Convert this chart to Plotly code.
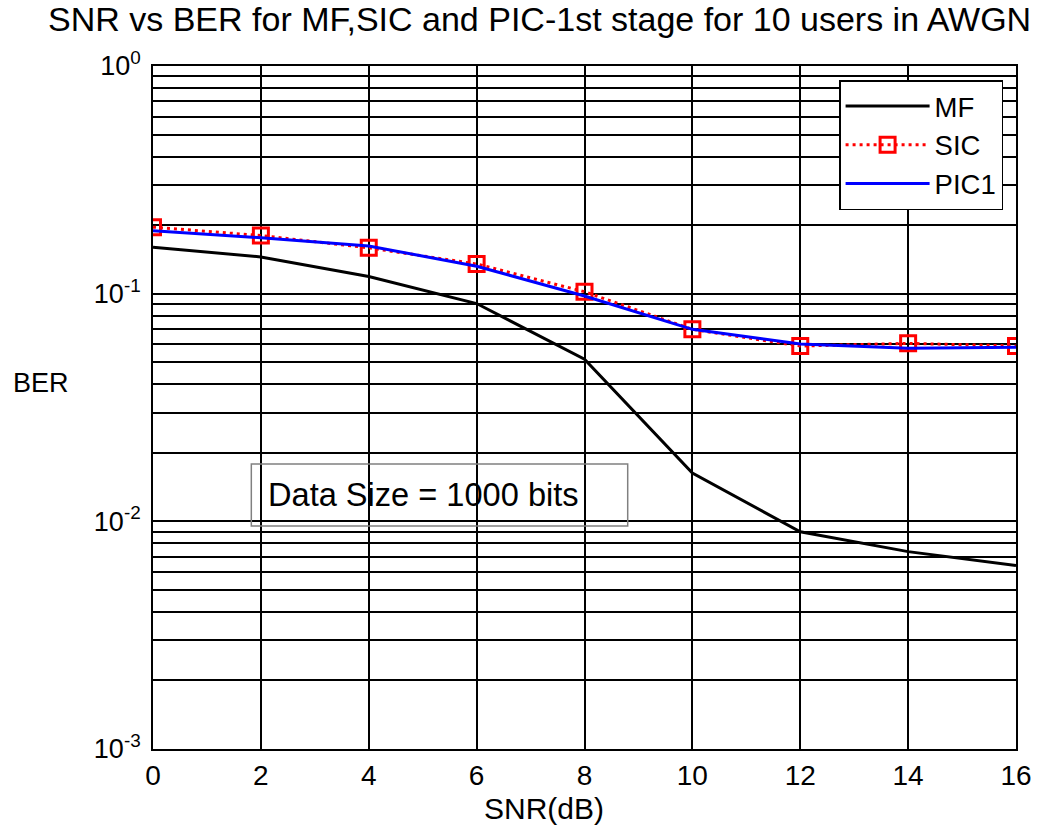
import plotly.graph_objects as go

# ---- data ----
snr_db = [0, 2, 4, 6, 8, 10, 12, 14, 16]
ber_mf = [0.160, 0.145, 0.119, 0.0905, 0.0515, 0.0163, 0.0090, 0.00736, 0.00640]
ber_sic = [0.196, 0.180, 0.159, 0.135, 0.102, 0.0697, 0.0589, 0.0605, 0.0589]
ber_pic1 = [0.189, 0.176, 0.162, 0.132, 0.0977, 0.0697, 0.0601, 0.0576, 0.0582]

x_ticks = [0, 2, 4, 6, 8, 10, 12, 14, 16]
y_major = [1e-3, 1e-2, 1e-1, 1e0]
y_major_labels = ["10<sup>-3</sup>", "10<sup>-2</sup>", "10<sup>-1</sup>", "10<sup>0</sup>"]
minor_digits = [2, 3, 4, 5, 6, 7, 8, 9]

title_text = "SNR vs BER for MF,SIC and PIC-1st stage for 10 users in AWGN"
x_label = "SNR(dB)"
y_label = "BER"
note_text = "Data Size = 1000 bits"

# build tick list with minor grid positions (unlabelled)
y_tickvals, y_ticktext = [], []
for i, m in enumerate(y_major):
    y_tickvals.append(m)
    y_ticktext.append(y_major_labels[i])
    if i < len(y_major) - 1:
        for d in minor_digits:
            y_tickvals.append(m * d)
            y_ticktext.append("")

FONT = "Liberation Sans, Arial, sans-serif"

fig = go.Figure()
fig.add_trace(go.Scatter(x=snr_db, y=ber_mf, name="MF", mode="lines",
                         line=dict(color="black", width=3)))
fig.add_trace(go.Scatter(x=snr_db, y=ber_sic, name="SIC", mode="lines+markers",
                         line=dict(color="#ff0000", width=3, dash="3px,4px"),
                         marker=dict(symbol="square-open", size=15, color="#ff0000",
                                     line=dict(width=3, color="#ff0000"))))
fig.add_trace(go.Scatter(x=snr_db, y=ber_pic1, name="PIC1", mode="lines",
                         line=dict(color="#0000ff", width=3)))

W, H = 1044, 831
L, R, T, B = 153, 22, 66, 82
pw, ph = W - L - R, H - T - B

def px(xp):
    return (xp - L) / pw

def py(yp):
    return (H - B - yp) / ph

fig.update_layout(
    width=W, height=H,
    margin=dict(l=L, r=R, t=T, b=B),
    paper_bgcolor="white", plot_bgcolor="white",
    font=dict(family=FONT, color="black", size=27),
    showlegend=True,
    legend=dict(x=px(1009), y=py(80), xanchor="right", yanchor="top",
                bgcolor="white", bordercolor="black", borderwidth=1.5,
                font=dict(size=27.5, family=FONT), itemwidth=84,
                tracegroupgap=0),
    xaxis=dict(range=[0, 16], tickvals=x_ticks, showgrid=True,
               gridcolor="black", gridwidth=1.7, zeroline=False,
               showline=True, linecolor="black", linewidth=1.8, mirror=True,
               ticks="", tickfont=dict(size=28)),
    yaxis=dict(type="log", range=[-3, 0], tickvals=y_tickvals, ticktext=y_ticktext,
               showgrid=True, gridcolor="black", gridwidth=1.7, zeroline=False,
               showline=True, linecolor="black", linewidth=1.8, mirror=True,
               ticks="", tickfont=dict(size=27), ticklabelstandoff=5),
    shapes=[
        dict(type="rect", xref="paper", yref="paper",
             x0=px(252), x1=px(631), y0=py(526), y1=py(464),
             line=dict(color="#808080", width=1.5), fillcolor="rgba(0,0,0,0)"),
    ],
    annotations=[
        dict(text=title_text, xref="paper", yref="paper", x=px(542), y=py(19),
             xanchor="center", yanchor="middle", showarrow=False,
             font=dict(size=34, family=FONT)),
        dict(text=x_label, xref="paper", yref="paper", x=px(547), y=py(808),
             xanchor="center", yanchor="middle", showarrow=False,
             font=dict(size=30, family=FONT)),
        dict(text=y_label, xref="paper", yref="paper", x=px(40), y=py(383),
             xanchor="center", yanchor="middle", showarrow=False,
             font=dict(size=27, family=FONT)),
        dict(text=note_text, xref="paper", yref="paper", x=px(267), y=py(494),
             xanchor="left", yanchor="middle", showarrow=False, align="left",
             font=dict(size=32.6, family=FONT)),
    ],
)

fig.write_html("out.html")
